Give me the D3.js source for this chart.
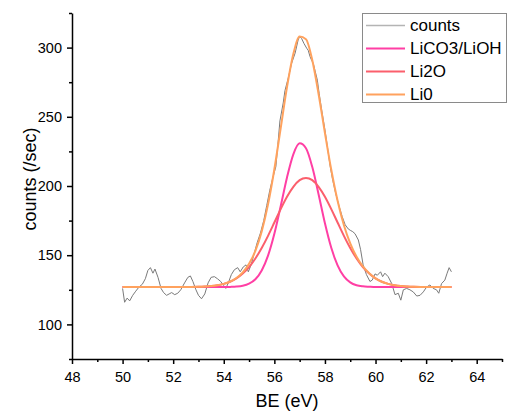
<!DOCTYPE html>
<html>
<head>
<meta charset="utf-8">
<script src="https://cdn.jsdelivr.net/npm/d3@7"></script>
<style>
html,body{margin:0;padding:0;background:#fff;}
svg{display:block;font-family:"Liberation Sans",Arial,sans-serif;}
</style>
</head>
<body>
<svg id="chart" width="509" height="412"></svg>
<script>
// ---- data ----
const countsX = [50.00,50.08,50.18,50.28,50.40,50.52,50.65,50.78,50.90,51.00,
  51.10,51.20,51.28,51.40,51.52,51.62,51.74,51.84,51.94,52.06,
  52.18,52.30,52.45,52.58,52.68,52.78,52.90,53.00,53.12,53.25,
  53.38,53.50,53.63,53.75,53.88,54.00,54.08,54.18,54.30,54.42,
  54.55,54.65,54.77,54.88,54.97,55.08,55.20,55.32,55.45,55.58,
  55.70,55.82,55.94,56.06,56.14,56.22,56.35,56.42,56.55,56.68,
  56.82,56.94,57.00,57.08,57.17,57.28,57.34,57.41,57.47,57.54,
  57.60,57.70,57.77,57.87,58.00,58.10,58.20,58.30,58.42,58.55,
  58.68,58.80,58.92,59.00,59.10,59.19,59.32,59.41,59.51,59.64,
  59.78,59.87,59.98,60.07,60.20,60.28,60.37,60.50,60.64,60.77,
  60.90,61.00,61.10,61.23,61.36,61.49,61.63,61.76,61.89,62.02,
  62.15,62.28,62.41,62.50,62.61,62.74,62.83,62.91,63.00];
const countsY = [126,116,119,117,121,124,127,129,133,139,
  141,137,140,134,126,123,121,122,123,121.5,
  122.5,125,130,134,135,131,125,121,118.5,122,
  130,134,134.5,133,131,128,126,130,136,139.5,
  141,138,141.5,143,138,143,151,159,166,175,
  186,197,206,214,230,247,260,269,278,288.5,
  296,305.5,308,306.5,303,299.5,298,293.5,291,288.5,
  284,276.5,267,255,240.5,228,215,205,195,186,
  178,172,169,168,167,165.5,161,154,143,136,
  131,132,136.5,135.5,138,134.5,137,134.5,129.5,121.5,
  122.5,117.5,125,126,125,123.5,120.5,121,123.5,127,
  128.5,126,125,122.5,129.5,132,137,141,138];

const fitX = [50,51,52,52.5,53,53.25,53.5,53.75,54,54.25,54.5,54.75,55,55.25,55.5,55.75,
  56,56.25,56.5,56.75,57,57.25,57.5,57.75,58,58.25,58.5,58.75,59,59.25,59.5,59.75,
  60,60.25,60.5,60.75,61,61.25,61.5,62,62.5,63];
const lico3Y = [127,127,127,127,127,127,127,127,127.0,127.1,127.3,127.9,129.4,132.6,139.0,149.7,
  165.5,185.4,206.2,222.9,230.8,227.3,213.7,193.9,173.1,155.4,142.7,134.7,130.4,128.3,127.5,127.2,
  127,127,127,127,127,127,127,127,127,127];
const li2oY = [127,127,127,127.0,127.2,127.4,127.7,128.3,129.3,130.8,133.2,136.7,141.4,147.6,155.2,164.0,
  173.6,183.3,192.2,199.4,204.2,205.8,204.2,199.4,192.2,183.3,173.6,164.0,155.2,147.6,141.4,136.7,
  133.2,130.8,129.3,128.3,127.7,127.4,127.2,127.0,127,127];
const li0Y = [127,127,127,127,127.2,127.4,127.7,128.3,129.3,130.9,133.5,137.6,143.8,153.2,167.2,186.7,
  212.1,241.7,271.4,295.3,308.0,306.1,290.9,266.3,238.3,211.7,189.3,171.7,158.6,148.9,141.9,136.9,
  133.2,130.8,129.3,128.3,127.7,127.4,127.2,127.0,127,127];

const seriesNames = ["counts","LiCO3/LiOH","Li2O","Li0"];
const xMajor = [48,50,52,54,56,58,60,62,64];
const xMinor = [49,51,53,55,57,59,61,63,65];
const yMajor = [100,150,200,250,300];
const yMinor = [75,125,175,225,275,325];
const xTitle = "BE (eV)";
const yTitle = "counts (/sec)";

// ---- drawing ----
const colors = ["#7a7a7a","#ff3fa4","#fb5f6c","#ffa25e"];
const widths = [1,2,2,2];
const svg = d3.select("#chart");
const x = d3.scaleLinear().domain([48,65]).range([72,502]);
const y = d3.scaleLinear().domain([75,325]).range([359,13]);

const series = [
  countsX.map((v,i)=>[v,countsY[i]]),
  fitX.map((v,i)=>[v,lico3Y[i]]),
  fitX.map((v,i)=>[v,li2oY[i]]),
  fitX.map((v,i)=>[v,li0Y[i]])
];
const lineLin = d3.line().x(d=>x(d[0])).y(d=>y(d[1]));
const lineSmooth = d3.line().x(d=>x(d[0])).y(d=>y(d[1])).curve(d3.curveMonotoneX);

series.forEach((s,i)=>{
  svg.append("path").datum(s)
    .attr("fill","none")
    .attr("stroke",colors[i])
    .attr("stroke-width",widths[i])
    .attr("stroke-linejoin","round")
    .attr("d", i===0 ? lineLin : lineSmooth);
});

// axes
const axStyle = g => {
  g.selectAll("path.domain").attr("stroke","#000").attr("stroke-width",1.5);
  g.selectAll(".tick line").attr("stroke","#000").attr("stroke-width",1.5);
  g.selectAll(".tick text").attr("fill","#000").style("font-size","14.5px")
   .style("font-family","'Liberation Sans',Arial,sans-serif");
};
svg.append("g").attr("transform","translate(0,359)")
  .call(d3.axisBottom(x).tickValues(xMinor).tickSize(3).tickSizeOuter(0).tickFormat(""))
  .call(g=>g.select(".domain").remove()).call(axStyle);
svg.append("g").attr("transform","translate(0,359)")
  .call(d3.axisBottom(x).tickValues(xMajor).tickSize(5).tickSizeOuter(0).tickPadding(8).tickFormat(d3.format("d")))
  .call(axStyle);
svg.append("g").attr("transform","translate(72,0)")
  .call(d3.axisLeft(y).tickValues(yMinor).tickSize(3).tickSizeOuter(0).tickFormat(""))
  .call(g=>g.select(".domain").remove()).call(axStyle);
svg.append("g").attr("transform","translate(72,0)")
  .call(d3.axisLeft(y).tickValues(yMajor).tickSize(5).tickSizeOuter(0).tickPadding(5).tickFormat(d3.format("d")))
  .call(axStyle);

// titles
svg.append("text").attr("x",287).attr("y",407).attr("text-anchor","middle")
  .style("font-size","18px").attr("fill","#000").text(xTitle);
svg.append("text").attr("transform","translate(36,179) rotate(-90)").attr("text-anchor","middle")
  .style("font-size","18px").attr("fill","#000").text(yTitle);

// legend
const lg = svg.append("g");
lg.append("rect").attr("x",362.5).attr("y",13.5).attr("width",144).attr("height",89)
  .attr("fill","#fff").attr("stroke","#8a8a8a").attr("stroke-width",1);
seriesNames.forEach((n,i)=>{
  const cy = 25.5 + i*23;
  lg.append("line").attr("x1",366).attr("x2",405).attr("y1",cy).attr("y2",cy)
    .attr("stroke", i===0 ? "#b4b4b4" : colors[i]).attr("stroke-width", i===0 ? 1.5 : 2);
  lg.append("text").attr("x",410).attr("y",cy).attr("dy","0.35em")
    .style("font-size","17px").attr("fill","#000").text(n);
});
</script>
</body>
</html>
